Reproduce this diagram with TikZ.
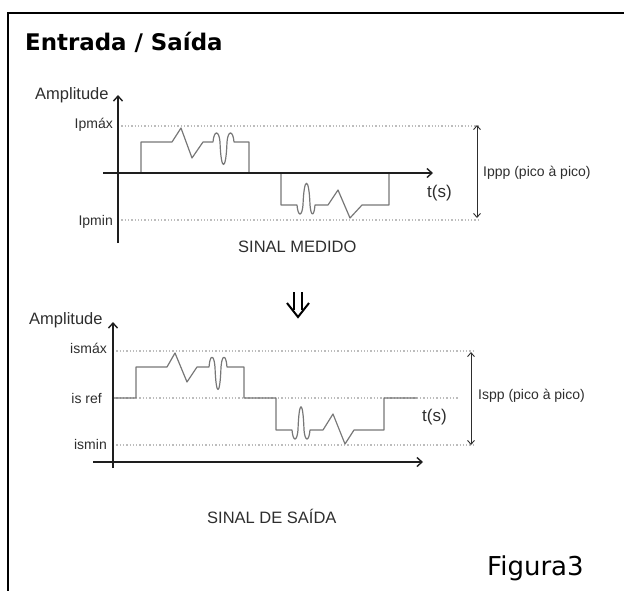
\documentclass[tikz,border=0pt]{standalone}
\usepackage{fontspec}
\setmainfont{Liberation Sans}
\newfontfamily\verd{DejaVu Sans}
\usetikzlibrary{arrows.meta}
\definecolor{axc}{HTML}{1E1E1E}
\definecolor{sigc}{HTML}{777777}
\definecolor{dotc}{HTML}{BDBDBD}
\definecolor{txtc}{HTML}{2E2E2E}
\tikzset{
  axisline/.style={draw=axc, line width=1.7pt, -{Straight Barb[length=5pt,width=9pt,line width=1.4pt]}},
  sigline/.style={draw=sigc, line width=1.2pt, line join=round},
  lvlline/.style={draw=dotc, line width=1.3pt, dotted},
  ppline/.style={draw=txtc, line width=0.9pt, {Straight Barb[length=4pt,width=7pt]}-{Straight Barb[length=4pt,width=7pt]}},
  lab/.style={text=txtc, inner sep=0pt, font=\fontsize{14}{16}\selectfont},
  biglab/.style={text=txtc, inner sep=0pt, font=\fontsize{16.5}{19}\selectfont},
  tlab/.style={text=txtc, inner sep=0pt, font=\fontsize{17}{20}\selectfont},
}
\begin{document}
\begin{tikzpicture}[x=1pt,y=-1pt]
\useasboundingbox (0,0) rectangle (624,590);
% frame
\draw[line width=2.5pt, black] (8,600) -- (8,13) -- (630,13);
% title
\node[anchor=base west, inner sep=0pt, font=\verd\bfseries\fontsize{22.9}{27}\selectfont] (title) at (25,50) {Entrada / Saída};
\node[anchor=base west, inner sep=0pt, font=\verd\fontsize{26}{31}\selectfont] (fig) at (487,575) {Figura3};

% ===== top chart =====
\coordinate (ya0) at (118,243); \coordinate (ya1) at (118,95);
\coordinate (xa0) at (103,173); \coordinate (xa1) at (433,173);
\coordinate (pmx0) at (118,126); \coordinate (pmx1) at (480,126);
\coordinate (pmn0) at (118,220); \coordinate (pmn1) at (480,220);
\coordinate (pp0) at (477,125); \coordinate (pp1) at (477,218);
\draw[lvlline] (pmx0) -- (pmx1);
\draw[lvlline] (pmn0) -- (pmn1);
\draw[sigline] (141,173) -- (141,142) -- (172,142) -- (181,128) -- (192,158) -- (203,142) -- (213,142)
  .. controls (214,130) and (219,130) .. (220,142)
  .. controls (221,172) and (226,172) .. (227,142)
  .. controls (228,130) and (233,130) .. (234,142)
  -- (249,142) -- (249,173) -- (281,173) -- (281,205) -- (297,205)
  .. controls (298,217) and (302,217) .. (303,205)
  .. controls (304,176) and (309,176) .. (310,205)
  .. controls (311,217) and (314,217) .. (315,205)
  -- (328,205) -- (338,190) -- (350,218) -- (362,205) -- (389,205) -- (389,173);
\draw[axisline] (ya0) -- (ya1);
\draw[axisline] (xa0) -- (xa1);
\draw[ppline] (pp0) -- (pp1);
\node[biglab, anchor=base west] (amp1) at (35,99.5) {Amplitude};
\node[lab, anchor=base east] (ipmax) at (113,128.5) {Ipmáx};
\node[lab, anchor=base east] (ipmin) at (113,225) {Ipmin};
\node[lab, anchor=base west] (ippp) at (483,176) {Ippp (pico à pico)};
\node[tlab, anchor=base west] (ts1) at (427,197) {t(s)};
\node[biglab, anchor=base west] (sm) at (238,252) {SINAL MEDIDO};

% double arrow
\draw[line width=2pt, black] (294,292) -- (294,310) (302,292) -- (302,310);
\draw[line width=2pt, black, line join=miter] (287,303) -- (298,317) -- (309,303);

% ===== bottom chart =====
\coordinate (yb0) at (113,468); \coordinate (yb1) at (113,322);
\coordinate (xb0) at (93,462); \coordinate (xb1) at (423,462);
\coordinate (smx0) at (113,351); \coordinate (smx1) at (475,351);
\coordinate (sref0) at (113,398); \coordinate (sref1) at (459,398);
\coordinate (smn0) at (113,445); \coordinate (smn1) at (475,445);
\coordinate (sp0) at (471,352); \coordinate (sp1) at (471,445);
\draw[lvlline] (smx0) -- (smx1);
\draw[lvlline] (sref0) -- (sref1);
\draw[lvlline] (smn0) -- (smn1);
\draw[sigline] (113,398) -- (136,398) -- (136,367) -- (167,367) -- (175,353) -- (187,382) -- (197,367) -- (209,367)
  .. controls (210,354) and (214,354) .. (215,367)
  .. controls (216,397) and (220,397) .. (221,367)
  .. controls (222,354) and (226,354) .. (227,367)
  -- (244,367) -- (244,398) -- (276,398) -- (276,430) -- (292,430)
  .. controls (293,442) and (297,442) .. (298,430)
  .. controls (299,399) and (303,399) .. (304,430)
  .. controls (305,442) and (309,442) .. (310,430)
  -- (323,430) -- (333,414) -- (345,444) -- (354,430) -- (384,430) -- (384,398) -- (417,398);
\draw[axisline] (yb0) -- (yb1);
\draw[axisline] (xb0) -- (xb1);
\draw[ppline] (sp0) -- (sp1);
\node[biglab, anchor=base west] (amp2) at (29,324) {Amplitude};
\node[lab, anchor=base east] (ismax) at (107,353) {ismáx};
\node[lab, anchor=base east] (isref) at (102,403) {is ref};
\node[lab, anchor=base east] (ismin) at (107,449) {ismin};
\node[lab, anchor=base west] (ispp) at (478,399) {Ispp (pico à pico)};
\node[tlab, anchor=base west] (ts2) at (422,421) {t(s)};
\node[biglab, anchor=base west] (ss) at (207,523) {SINAL DE SAÍDA};
\end{tikzpicture}
\end{document}
